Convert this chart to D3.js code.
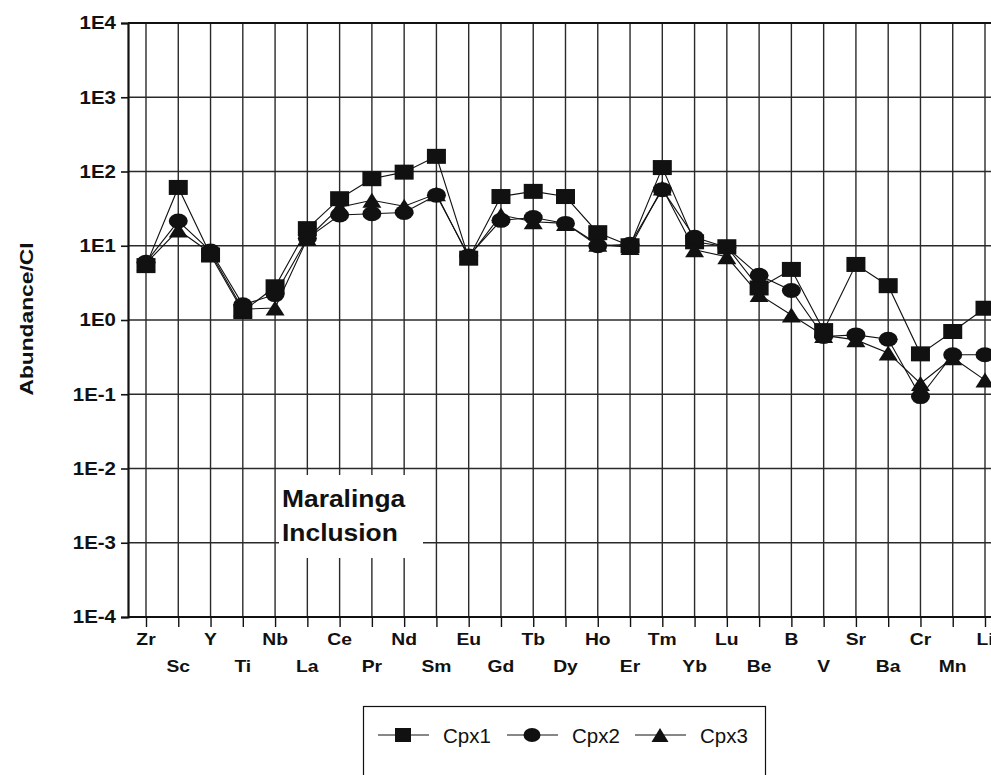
<!DOCTYPE html>
<html>
<head>
<meta charset="utf-8">
<script src="https://cdn.jsdelivr.net/npm/d3@7"></script>
<style>
  html, body { margin: 0; padding: 0; background: #fff; }
  svg { display: block; font-family: Arial, "Liberation Sans", sans-serif; }
</style>
</head>
<body>
<svg id="chart" width="991" height="775"></svg>
<script>
// Element order along the x axis
const elements = ["Zr","Sc","Y","Ti","Nb","La","Ce","Pr","Nd","Sm","Eu","Gd","Tb","Dy",
                  "Ho","Er","Tm","Yb","Lu","Be","B","V","Sr","Ba","Cr","Mn","Li"];

// Chondrite-normalised abundances for each clinopyroxene
const cpx1 = [5.4, 61, 7.5, 1.3, 2.8, 17, 43, 80, 98, 160, 6.8, 46, 54, 46,
              15, 10, 113, 11.3, 9.7, 2.7, 4.8, 0.72, 5.6, 2.9, 0.35, 0.70, 1.44];
const cpx2 = [6.0, 21.5, 8.5, 1.6, 2.2, 12.6, 26, 27, 28, 48, 7.3, 22, 24, 20,
              10, 10.5, 57, 13, 9.5, 4.0, 2.5, 0.60, 0.63, 0.55, 0.093, 0.34, 0.34];
const cpx3 = [5.8, 16.3, 8.0, 1.4, 1.45, 12.5, 33, 41, 34, 50, 7.0, 26, 21, 20,
              10.5, 9.5, 60, 8.8, 7.1, 2.2, 1.17, 0.62, 0.54, 0.36, 0.14, 0.31, 0.155];

const seriesNames = ["Cpx1", "Cpx2", "Cpx3"];
const seriesShapes = ["square", "circle", "triangle"];

// Decade ticks on the abundance axis
const yTicks = [1e-4, 1e-3, 1e-2, 1e-1, 1e0, 1e1, 1e2, 1e3, 1e4];
const yTickLabels = ["1E-4","1E-3","1E-2","1E-1","1E0","1E1","1E2","1E3","1E4"];

const svg = d3.select("#chart");
const plotLeft = 128, plotTop = 23, plotBottom = 617, plotRight = 1002;
const stretch = 1.17;   // labels are set slightly wide

const x = d3.scalePoint().domain(elements).range([146, 985]);
const y = d3.scaleLog().domain([1e-4, 1e4]).range([plotBottom, plotTop]);

const ink = "#111";

// Grid
const grid = svg.append("g");
grid.selectAll("line.v").data(elements).join("line").attr("class", "v")
  .attr("x1", d => x(d)).attr("x2", d => x(d))
  .attr("y1", plotTop).attr("y2", plotBottom)
  .attr("stroke", "#2a2a2a").attr("stroke-width", 1.4);
grid.selectAll("line.h").data(yTicks).join("line").attr("class", "h")
  .attr("x1", plotLeft).attr("x2", plotRight)
  .attr("y1", d => y(d)).attr("y2", d => y(d))
  .attr("stroke", "#2a2a2a").attr("stroke-width", 1.4);

// Label box that masks the grid behind the sample name
svg.append("rect").attr("x", 279).attr("y", 475).attr("width", 144).attr("height", 83)
  .attr("fill", "#fff");
const lbl = svg.append("text").attr("transform", "translate(282,0) scale(1.1,1)")
  .attr("font-size", 24).attr("font-weight", "bold").attr("fill", ink);
lbl.append("tspan").attr("x", 0).attr("y", 507).text("Maralinga");
lbl.append("tspan").attr("x", 0).attr("y", 541).text("Inclusion");

// Frame
svg.append("line").attr("x1", plotLeft).attr("x2", plotRight).attr("y1", plotTop).attr("y2", plotTop)
  .attr("stroke", ink).attr("stroke-width", 2);

// Y axis (tick marks from the axis generator, labels set separately)
const yAxis = d3.axisLeft(y).tickValues(yTicks).tickFormat("").tickSize(7);
const gy = svg.append("g").attr("transform", `translate(${plotLeft},0)`).call(yAxis);
gy.select(".domain").attr("stroke", ink).attr("stroke-width", 2.2);
gy.selectAll(".tick line").attr("stroke", ink).attr("stroke-width", 1.6);
svg.append("g").selectAll("text").data(yTicks).join("text")
  .attr("transform", d => `translate(116,${y(d)}) scale(${stretch},1)`)
  .attr("dy", "0.36em").attr("text-anchor", "end")
  .attr("font-size", 17.5).attr("font-weight", "bold").attr("fill", ink)
  .text((d, i) => yTickLabels[i]);

// X axis: ticks with labels staggered over two rows
const xAxis = d3.axisBottom(x).tickSize(10).tickFormat("");
const gx = svg.append("g").attr("transform", `translate(0,${plotBottom})`).call(xAxis);
gx.select(".domain").attr("d", `M${plotLeft},0H${plotRight}`).attr("stroke", ink).attr("stroke-width", 2.2);
gx.selectAll(".tick line").attr("stroke", ink).attr("stroke-width", 1.4);
svg.append("g").selectAll("text").data(elements).join("text")
  .attr("transform", (d, i) => `translate(${x(d)},${i % 2 === 0 ? 645 : 672}) scale(${stretch},1)`)
  .attr("text-anchor", "middle")
  .attr("font-size", 16.5).attr("font-weight", "bold").attr("fill", ink)
  .text(d => d);

// Y axis title
svg.append("text").attr("transform", "translate(33,319) rotate(-90) scale(1.2,1)")
  .attr("text-anchor", "middle").attr("font-size", 19).attr("font-weight", "bold")
  .attr("fill", ink).text("Abundance/Cl");

// Marker drawing (markers are slightly wider than tall)
function marker(sel, shape, w, h) {
  if (shape === "square") {
    sel.append("rect").attr("x", -w / 2).attr("y", -h / 2).attr("width", w).attr("height", h)
      .attr("fill", ink);
  } else if (shape === "circle") {
    sel.append("ellipse").attr("rx", w / 2).attr("ry", h / 2).attr("fill", ink);
  } else {
    sel.append("path").attr("d", `M0,${-h / 2}L${w / 2},${h / 2}L${-w / 2},${h / 2}Z`)
      .attr("fill", ink);
  }
}

const allSeries = [cpx1, cpx2, cpx3];
const line = d3.line().x((d, i) => x(elements[i])).y(d => y(d));

allSeries.forEach(vals => {
  svg.append("path").datum(vals).attr("d", line)
    .attr("fill", "none").attr("stroke", ink).attr("stroke-width", 1.1);
});
allSeries.forEach((vals, s) => {
  const g = svg.append("g");
  vals.forEach((v, i) => {
    const m = g.append("g").attr("transform", `translate(${x(elements[i])},${y(v)})`);
    marker(m, seriesShapes[s], 19, 15);
  });
});

// Legend
const leg = svg.append("g");
leg.append("rect").attr("x", 363.5).attr("y", 706.5).attr("width", 402).attr("height", 90)
  .attr("fill", "#fff").attr("stroke", ink).attr("stroke-width", 1.2);
const legX = [378, 507, 635];
seriesNames.forEach((name, s) => {
  const g = leg.append("g").attr("transform", `translate(${legX[s]},735)`);
  g.append("line").attr("x1", 0).attr("x2", 51).attr("stroke", ink).attr("stroke-width", 1.2);
  const m = g.append("g").attr("transform", "translate(25,0)");
  marker(m, seriesShapes[s], s === 0 ? 16 : 17, 14);
  g.append("text").attr("x", 65).attr("y", 7.5).attr("font-size", 20.5).attr("fill", ink)
    .text(name);
});
</script>
</body>
</html>
